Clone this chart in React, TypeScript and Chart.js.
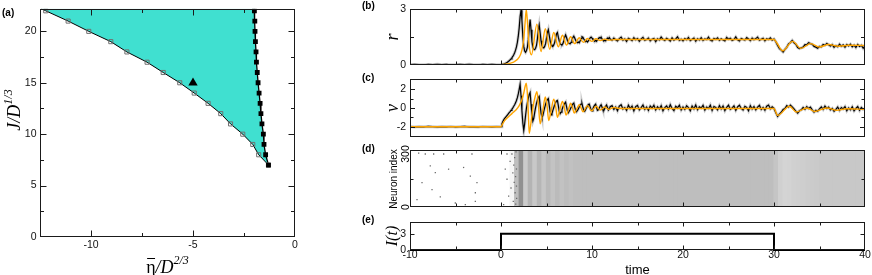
import React, { useEffect, useRef } from 'react';
import { Chart, registerables } from 'chart.js';

Chart.register(...registerables);

// ---------------- Panel (a): phase diagram ----------------
const phaseJ = [22, 21, 20, 19, 18, 17, 16, 15, 14, 13, 12, 11, 10, 9, 8, 7];
const leftEta = [-12.22, -11.12, -10.11, -9.03, -8.24, -7.25, -6.46, -5.65, -4.94, -4.26, -3.64, -3.16, -2.56, -2.07, -1.78, -1.3];
const rightEta = [-1.99, -1.97, -1.96, -1.94, -1.91, -1.89, -1.85, -1.81, -1.76, -1.71, -1.67, -1.62, -1.55, -1.52, -1.44, -1.3];
const boundaryTopJ = 22.2;
const leftTopEta = -12.44;
const rightTopEta = -2.0;
const markerEta = [-5];
const markerJ = [15];
const etaTickLabels = [-10, -5, 0];
const jTickLabels = [0, 5, 10, 15, 20];

// ---------------- Panels (b),(c): time series ----------------
// network (black): pre-stimulus t=-10..-0.5 step 0.5, early t=0..12 step 0.1, late t=12.2..40 step 0.2
const rNetPre = [0.02, 0.03, 0.02, 0.01, 0.03, 0.02, 0.04, 0.02, 0.03, 0.01, 0.02, 0.03, 0.02, 0.04, 0.02, 0.01, 0.03, 0.02, 0.03, 0.02];
const rNetEarly = [
  0.03, 0.03, 0.04, 0.05, 0.07, 0.09, 0.12, 0.15, 0.19, 0.23,
  0.28, 0.33, 0.39, 0.46, 0.55, 0.66, 0.8, 0.98, 1.22, 1.55,
  2.0, 2.6, 2.95, 2.4, 1.55, 1.0, 0.75, 0.68, 0.78, 0.95,
  1.35, 2.0, 2.45, 1.9, 1.25, 0.95, 0.85, 0.82, 0.9, 1.05,
  1.4, 1.85, 2.15, 1.75, 1.3, 1.05, 0.95, 0.92, 1.0, 1.15,
  1.45, 1.75, 1.9, 1.6, 1.3, 1.1, 1.03, 1.0, 1.08, 1.22,
  1.45, 1.68, 1.75, 1.5, 1.3, 1.15, 1.1, 1.08, 1.15, 1.3,
  1.5, 1.62, 1.48, 1.32, 1.2, 1.16, 1.14, 1.22, 1.35, 1.48,
  1.55, 1.45, 1.33, 1.25, 1.2, 1.24, 1.2, 1.3, 1.42, 1.52,
  1.5, 1.4, 1.32, 1.26, 1.3, 1.24, 1.3, 1.38, 1.46, 1.5,
  1.45, 1.38, 1.32, 1.27, 1.33, 1.28, 1.36, 1.42, 1.48, 1.44,
  1.5, 1.4, 1.34, 1.29, 1.35, 1.3, 1.38, 1.45, 1.41, 1.48,
  1.4,
];
const rNetLate = [
  1.33, 1.45, 1.36, 1.29, 1.42, 1.5, 1.34, 1.4, 1.27, 1.44,
  1.38, 1.31, 1.47, 1.36, 1.42, 1.28, 1.4, 1.49, 1.33, 1.37,
  1.45, 1.3, 1.39, 1.43, 1.26, 1.41, 1.35, 1.5, 1.38, 1.32,
  1.44, 1.37, 1.29, 1.46, 1.34, 1.4, 1.52, 1.33, 1.39, 1.3,
  1.42, 1.36, 1.48, 1.31, 1.38, 1.45, 1.28, 1.41, 1.35, 1.47,
  1.32, 1.4, 1.37, 1.5, 1.34, 1.29, 1.43, 1.38, 1.46, 1.33,
  1.41, 1.35, 1.3, 1.48, 1.39, 1.44, 1.32, 1.37, 1.51, 1.36,
  1.29, 1.43, 1.38, 1.34, 1.47, 1.4, 1.31, 1.45, 1.36, 1.42,
  1.5, 1.33, 1.39, 1.44, 1.3, 1.41, 1.37, 1.46, 1.34, 1.4,
  1.25, 1.05, 0.88, 0.8, 0.7, 0.84, 0.95, 1.14, 1.2, 1.32,
  1.2, 1.12, 0.94, 0.88, 0.92, 0.96, 1.1, 1.08, 1.2, 1.15,
  1.12, 1.0, 0.96, 0.9, 1.0, 0.98, 1.1, 1.06, 1.16, 1.09,
  1.02, 1.1, 0.95, 1.04, 0.98, 1.12, 1.01, 1.08, 0.96, 1.1,
  1.03, 1.12, 0.98, 1.07, 0.94, 1.1, 1.0, 1.06, 0.9, 1.04,
];
const vNetPre = [-1.98, -2.02, -1.99, -2.01, -1.97, -2.0, -2.03, -1.99, -2.01, -1.98, -2.02, -2.0, -1.97, -2.01, -2.0, -2.02, -1.98, -2.0, -2.01, -1.99];
const vNetEarly = [
  -2.0, -1.7, -1.45, -1.27, -1.12, -1.0, -0.88, -0.75, -0.62, -0.5,
  -0.38, -0.25, -0.12, 0.02, 0.18, 0.35, 0.55, 0.8, 1.1, 1.5,
  2.0, 2.55, 1.3, -0.3, -1.6, -2.4, -1.7, -0.8, 0.0, 0.55,
  1.0, 1.45, 1.65, 0.4, -0.7, -1.4, -1.1, -0.5, 0.05, 0.5,
  0.85, 1.15, 1.25, 0.3, -0.55, -1.0, -0.8, -0.35, 0.05, 0.4,
  0.7, 0.9, 1.0, 0.3, -0.4, -0.75, -0.6, -0.25, 0.05, 0.35,
  0.55, 0.75, 0.8, 0.25, -0.35, -0.6, -0.45, -0.2, 0.1, 0.3,
  0.5, 0.62, 0.15, -0.3, -0.5, -0.35, -0.15, 0.08, 0.28, 0.45,
  0.52, 0.1, -0.25, -0.4, -0.25, -0.1, 0.12, 0.3, 0.42, 0.48,
  0.05, -0.25, -0.35, -0.15, 0.05, 0.2, 0.38, 0.42, 0.1, -0.2,
  -0.3, -0.1, 0.15, 0.3, 0.4, 0.05, -0.25, -0.2, 0.0, 0.22,
  0.35, 0.1, -0.2, -0.28, -0.05, 0.18, 0.32, 0.05, -0.22, -0.1,
  0.15,
];
const vNetLate = [
  0.25, -0.15, 0.1, -0.3, 0.2, 0.35, -0.1, 0.05, -0.25, 0.3,
  -0.05, 0.2, -0.3, 0.15, 0.28, -0.2, 0.05, 0.32, -0.15, 0.1,
  -0.25, 0.2, 0.0, 0.3, -0.2, 0.12, -0.1, 0.25, -0.3, 0.05,
  0.22, -0.12, 0.35, -0.05, -0.28, 0.18, 0.02, 0.3, -0.2, 0.1,
  -0.15, 0.25, 0.05, -0.3, 0.2, -0.08, 0.32, -0.18, 0.12, 0.0,
  0.28, -0.22, 0.1, -0.05, 0.3, -0.25, 0.15, 0.05, -0.2, 0.25,
  -0.1, 0.2, -0.28, 0.08, 0.3, -0.15, 0.0, 0.22, -0.25, 0.12,
  0.3, -0.05, -0.22, 0.18, 0.05, -0.3, 0.25, -0.1, 0.15, -0.2,
  0.1, 0.28, -0.15, 0.05, -0.25, 0.2, 0.32, -0.08, 0.12, -0.05,
  -0.5, -0.9, -0.65, -0.45, -0.15, -0.05, 0.25, 0.1, 0.3, 0.12,
  -0.1, -0.35, -0.55, -0.3, -0.2, 0.05, -0.15, 0.15, -0.05, 0.1,
  -0.2, -0.45, -0.25, -0.35, -0.1, 0.12, -0.15, 0.2, -0.05, 0.1,
  -0.2, -0.05, -0.35, -0.15, 0.1, -0.25, 0.05, -0.1, 0.15, -0.3,
  0.0, -0.2, 0.12, -0.3, -0.05, 0.15, -0.25, 0.05, -0.15, -0.1,
];
// mean-field (orange): extrema
const rMfT = [-10, 0, 0.5, 1.0, 1.5, 2.0, 2.3, 2.5, 2.65, 2.78, 2.92, 3.08, 3.35, 3.95, 4.4, 4.87, 5.35, 5.8, 6.3, 6.75, 7.2, 7.65, 8.1, 8.6, 9.05, 9.5, 10.0, 10.45, 10.9, 11.4, 11.85, 12.5, 30.0, 30.3, 30.95, 32.05, 32.95, 34.05, 35.0, 36.0, 37.1, 38.2, 40];
const rMfV = [0.02, 0.02, 0.04, 0.09, 0.19, 0.42, 0.8, 1.4, 2.3, 2.98, 2.2, 1.1, 0.55, 2.2, 0.72, 1.95, 0.85, 1.75, 0.98, 1.6, 1.07, 1.52, 1.15, 1.47, 1.22, 1.43, 1.27, 1.41, 1.31, 1.39, 1.34, 1.37, 1.37, 1.2, 0.76, 1.27, 0.9, 1.15, 0.97, 1.1, 1.01, 1.06, 1.05];
const vMfT = [-10, 0, 0.15, 0.4, 0.8, 1.2, 1.6, 2.0, 2.3, 2.5, 2.65, 2.78, 2.9, 3.0, 3.1, 3.3, 3.5, 3.75, 3.95, 4.1, 4.3, 4.6, 4.87, 5.05, 5.25, 5.5, 5.8, 6.0, 6.2, 6.45, 6.75, 6.95, 7.15, 7.4, 7.65, 7.85, 8.05, 8.3, 8.6, 8.8, 9.0, 9.5, 9.95, 10.45, 10.9, 11.4, 11.85, 12.4, 13.0, 30.0, 30.4, 31.7, 32.45, 33.6, 34.5, 35.8, 36.9, 38.0, 40];
const vMfV = [-2.0, -2.0, -1.75, -1.35, -0.95, -0.6, -0.25, 0.25, 0.9, 1.6, 2.3, 2.64, 1.5, -0.5, -2.7, -1.5, 0.0, 1.2, 1.73, 0.5, -1.69, -0.2, 1.19, 0.3, -1.33, -0.3, 0.95, 0.2, -1.0, -0.25, 0.7, 0.1, -0.75, -0.2, 0.5, 0.05, -0.55, -0.15, 0.35, 0.0, -0.4, 0.25, -0.3, 0.18, -0.22, 0.1, -0.15, 0.05, -0.05, -0.05, -0.79, 0.18, -0.43, 0.0, -0.37, 0.0, -0.25, -0.08, -0.15];

// ---------------- Panel (d): raster ----------------
const neuronCount = 300;
const spikeT = [-9.23, -9.05, -8.68, -8.32, -7.77, -7.58, -7.4, -7.22, -6.67, -6.3, -5.76, -5.02, -4.11, -3.92, -3.37, -3.19, -2.82, -2.82, -2.64, 0.29, 0.47, 0.66, 0.66, 0.84, 1.0, 1.1, 1.2, 1.3, 1.35, 1.4, 1.45, 1.5, 1.55, 1.6, 1.62, 1.65, 1.7, 1.7, 1.72];
const spikeN = [39, 284, 128, 279, 217, 92, 279, 181, 53, 279, 199, 21, 208, 12, 163, 279, 75, 30, 128, 12, 199, 279, 146, 57, 240, 100, 279, 180, 30, 220, 130, 260, 75, 160, 15, 290, 110, 200, 45];
// spike density per 0.5-wide time bin, t = 0 .. 40
const rasterBinStart = 0;
const rasterBinWidth = 0.5;
const rasterDensity = [
  0, 0, 0.08, 0.5, 0.85, 0.4, 0.58, 0.42, 0.56, 0.44, 0.54, 0.46, 0.52, 0.47, 0.51, 0.48,
  0.5, 0.5, 0.5, 0.5, 0.5, 0.5, 0.5, 0.5, 0.5, 0.5, 0.5, 0.5, 0.5, 0.5, 0.5, 0.5, 0.5, 0.5, 0.5, 0.5,
  0.5, 0.5, 0.5, 0.5, 0.5, 0.5, 0.5, 0.5, 0.5, 0.5, 0.5, 0.5, 0.5, 0.5, 0.5, 0.5, 0.5, 0.5, 0.5, 0.5,
  0.5, 0.5, 0.5, 0.5,
  0.45, 0.36, 0.33, 0.34, 0.36, 0.37, 0.38, 0.39, 0.4, 0.41, 0.42, 0.42, 0.42, 0.42, 0.42, 0.42, 0.42, 0.42, 0.42, 0.42,
];

// ---------------- Panel (e): stimulus ----------------
const stimT = [-10, 0, 30, 40];
const stimI = [0, 3, 0, 0];

const timeTickLabels = [-10, 0, 10, 20, 30, 40];
const rTickLabels = [0, 3];
const vTickLabels = [-2, 0, 2];
const iTickLabels = [0, 3];

// ---------------- styling ----------------
const W = 872;
const H = 275;
const SANS = '"Liberation Sans", Arial, Helvetica, sans-serif';
const SERIF = '"Liberation Serif", "Times New Roman", serif';
const FRAME = '#1a1a1a';
const TURQ = '#40e0d0';
const ORANGE = '#ffa500';
const TICK_FONT = { family: SANS, size: 10.5, lineHeight: 1 };

function gridPoints(t0: number, dt: number, vals: number[]) {
  return vals.map((v, i) => ({ x: +(t0 + i * dt).toFixed(3), y: v }));
}
function pairPoints(xs: number[], ys: number[]) {
  return xs.map((x, i) => ({ x, y: ys[i] }));
}

function scaleCfg(min: number, max: number, opt: any) {
  const show = !!opt.labels;
  const cfg: any = {
    type: 'linear',
    min,
    max,
    display: show,
    offset: false,
    grid: { display: false, drawTicks: false, offset: false },
    border: { display: false },
    ticks: {
      display: show,
      font: TICK_FONT,
      color: '#111',
      padding: opt.pad ?? 3,
      autoSkip: false,
      maxRotation: 0,
      minRotation: 0,
      callback: (v: any) => String(v),
    },
  };
  if (show) {
    cfg.afterBuildTicks = (s: any) => {
      s.ticks = opt.labels.map((v: number) => ({ value: v }));
    };
    cfg.afterFit = (s: any) => {
      if (opt.horizontal) s.height = opt.size;
      else s.width = opt.size;
    };
  }
  return cfg;
}

function framePlugin(id: string, xt: any[], yt: any[]) {
  return {
    id,
    afterDatasetsDraw(chart: any) {
      const { ctx, chartArea: a } = chart;
      const xs = chart.scales.x;
      const ys = chart.scales.y;
      const L = Math.round(a.left) + 0.5;
      const R = Math.round(a.right) - 0.5;
      const T = Math.round(a.top) + 0.5;
      const B = Math.round(a.bottom) - 0.5;
      ctx.save();
      ctx.strokeStyle = FRAME;
      ctx.lineWidth = 1;
      ctx.beginPath();
      for (const t of xt) {
        const p = Math.round(xs.getPixelForValue(t.v)) + 0.5;
        ctx.moveTo(p, B);
        ctx.lineTo(p, B - t.len);
        ctx.moveTo(p, T);
        ctx.lineTo(p, T + t.len);
      }
      for (const t of yt) {
        const p = Math.round(ys.getPixelForValue(t.v)) + 0.5;
        ctx.moveTo(L, p);
        ctx.lineTo(L + t.len, p);
        ctx.moveTo(R, p);
        ctx.lineTo(R - t.len, p);
      }
      ctx.stroke();
      ctx.strokeRect(L, T, R - L, B - T);
      ctx.restore();
    },
  };
}

function textPlugin(id: string, items: any[]) {
  return {
    id,
    afterDraw(chart: any) {
      const ctx = chart.ctx;
      for (const it of items) {
        ctx.save();
        ctx.translate(it.x, it.y);
        if (it.rot) ctx.rotate(it.rot);
        ctx.fillStyle = it.color || '#000';
        ctx.textBaseline = 'alphabetic';
        ctx.textAlign = 'left';
        let total = 0;
        const ws = it.runs.map((r: any) => {
          ctx.font = r.font;
          const w = ctx.measureText(r.t).width;
          total += w;
          return w;
        });
        let x = it.align === 'center' ? -total / 2 : it.align === 'right' ? -total : 0;
        it.runs.forEach((r: any, i: number) => {
          ctx.font = r.font;
          ctx.fillText(r.t, x, -(r.dy || 0));
          if (r.over) ctx.fillRect(x + 1, -r.over, ws[i] - 1.5, 1);
          x += ws[i];
        });
        ctx.restore();
      }
    },
  };
}

const timeXTicks = [
  { v: -5, len: 3 }, { v: 0, len: 4 }, { v: 5, len: 3 }, { v: 10, len: 4 }, { v: 15, len: 3 },
  { v: 20, len: 4 }, { v: 25, len: 3 }, { v: 30, len: 4 }, { v: 35, len: 3 },
];

function baseOptions(padding: any, scales: any) {
  return {
    responsive: false,
    animation: false,
    devicePixelRatio: 1,
    events: [],
    layout: { padding },
    plugins: { legend: { display: false }, tooltip: { enabled: false } },
    scales,
  };
}

function buildConfigs() {
  const ROT = -Math.PI / 2;
  // ---- (a)
  const leftPts = pairPoints(leftEta, phaseJ);
  const rightPts = pairPoints(rightEta, phaseJ);
  const leftLine = [{ x: leftTopEta, y: boundaryTopJ }, ...leftPts];
  const rightLine = [{ x: rightTopEta, y: boundaryTopJ }, ...rightPts];
  const region = [...leftLine, ...rightPts.slice().reverse(), { x: rightTopEta, y: boundaryTopJ }];
  const cfgA = {
    type: 'line',
    data: {
      datasets: [
        { label: 'region', data: region, fill: 'shape', backgroundColor: TURQ, borderWidth: 0, pointRadius: 0, order: 6 },
        { label: 'left', data: leftLine, borderColor: '#000', borderWidth: 1, pointRadius: 0, fill: false, order: 5 },
        { label: 'right', data: rightLine, borderColor: '#000', borderWidth: 1.3, pointRadius: 0, fill: false, order: 4 },
        {
          type: 'scatter', label: 'open', data: leftPts, pointStyle: 'rect', pointRadius: 2.9,
          borderColor: '#707070', backgroundColor: 'rgba(0,0,0,0)', pointBorderColor: '#707070',
          pointBackgroundColor: 'rgba(0,0,0,0)', pointBorderWidth: 1, order: 3,
        },
        {
          type: 'scatter', label: 'filled', data: rightPts, pointStyle: 'rect', pointRadius: 3.4,
          borderColor: '#000', backgroundColor: '#000', pointBorderColor: '#000', pointBackgroundColor: '#000',
          pointBorderWidth: 0, order: 2,
        },
        {
          type: 'scatter', label: 'marker', data: pairPoints(markerEta, markerJ), pointStyle: 'triangle', pointRadius: 5.4,
          borderColor: '#000', backgroundColor: '#000', pointBorderColor: '#000', pointBackgroundColor: '#000',
          pointBorderWidth: 0, order: 1,
        },
      ],
    },
    options: baseOptions(
      { left: 0, right: W - 295, top: 7, bottom: H - 237 - 20 },
      {
        x: scaleCfg(-12.5, 0, { labels: etaTickLabels, pad: 2.5, size: 20, horizontal: true }),
        y: scaleCfg(0, 22.2, { labels: jTickLabels, pad: 3.5, size: 40, horizontal: false }),
      }
    ),
    plugins: [
      framePlugin('frameA',
        [{ v: -10, len: 6 }, { v: -7.5, len: 3.5 }, { v: -5, len: 6 }, { v: -2.5, len: 3.5 }],
        [{ v: 2.5, len: 3.5 }, { v: 5, len: 6 }, { v: 7.5, len: 3.5 }, { v: 10, len: 6 }, { v: 12.5, len: 3.5 }, { v: 15, len: 6 }, { v: 17.5, len: 3.5 }, { v: 20, len: 6 }]),
      textPlugin('textA', [
        { x: 2, y: 15.5, runs: [{ t: '(a)', font: `bold 10px ${SANS}` }] },
        { x: 20, y: 110, rot: ROT, align: 'center', runs: [{ t: 'J/D', font: `italic 18px ${SERIF}` }, { t: '1/3', font: `italic 12px ${SERIF}`, dy: 8 }] },
        { x: 167.5, y: 273, align: 'center', runs: [{ t: 'η', font: `18px ${SERIF}`, over: 15 }, { t: '/D', font: `italic 18px ${SERIF}` }, { t: '2/3', font: `italic 12px ${SERIF}`, dy: 9 }] },
      ]),
    ],
  };

  // ---- (b)
  const rNet = [...gridPoints(-10, 0.5, rNetPre), ...gridPoints(0, 0.1, rNetEarly), ...gridPoints(12.2, 0.2, rNetLate)];
  const vNet = [...gridPoints(-10, 0.5, vNetPre), ...gridPoints(0, 0.1, vNetEarly), ...gridPoints(12.2, 0.2, vNetLate)];
  const seriesSets = (net: any[], mf: any[]) => [
    { label: 'mean field', data: mf, borderColor: ORANGE, borderWidth: 1.4, pointRadius: 0, cubicInterpolationMode: 'monotone', fill: false, order: 0 },
    { label: 'network', data: net, borderColor: '#000', borderWidth: 1.2, pointRadius: 0, fill: false, order: 1 },
    { label: 'network halo', data: net, borderColor: 'rgba(0,0,0,0.2)', borderWidth: 3, pointRadius: 0, fill: false, order: 2 },
  ];
  const cfgB = {
    type: 'line',
    data: { datasets: seriesSets(rNet, pairPoints(rMfT, rMfV)) },
    options: baseOptions(
      { left: 410 - 30, right: W - 865, top: 9, bottom: H - 65 },
      {
        x: scaleCfg(-10, 40, { horizontal: true }),
        y: scaleCfg(0, 3, { labels: rTickLabels, pad: 4, size: 30, horizontal: false }),
      }
    ),
    plugins: [
      framePlugin('frameB', timeXTicks, [{ v: 1.5, len: 3.5 }]),
      textPlugin('textB', [
        { x: 362, y: 8.5, runs: [{ t: '(b)', font: `bold 10px ${SANS}` }] },
        { x: 397.5, y: 37, rot: ROT, align: 'center', runs: [{ t: 'r', font: `italic 18px ${SERIF}` }] },
      ]),
    ],
  };

  // ---- (c)
  const cfgC = {
    type: 'line',
    data: { datasets: seriesSets(vNet, pairPoints(vMfT, vMfV)) },
    options: baseOptions(
      { left: 410 - 30, right: W - 865, top: 79, bottom: H - 137 },
      {
        x: scaleCfg(-10, 40, { horizontal: true }),
        y: scaleCfg(-3.1, 3.1, { labels: vTickLabels, pad: 4, size: 30, horizontal: false }),
      }
    ),
    plugins: [
      framePlugin('frameC', timeXTicks, [{ v: -2, len: 4.5 }, { v: -1, len: 3 }, { v: 0, len: 4.5 }, { v: 1, len: 3 }, { v: 2, len: 4.5 }]),
      textPlugin('textC', [
        { x: 362, y: 80.5, runs: [{ t: '(c)', font: `bold 10px ${SANS}` }] },
        { x: 397.5, y: 108, rot: ROT, align: 'center', runs: [{ t: 'v', font: `italic 18px ${SERIF}` }] },
      ]),
    ],
  };

  // ---- (d)
  const bins = rasterDensity.map((d, i) => ({ x: rasterBinStart + rasterBinWidth * (i + 0.5), y: neuronCount }));
  const binColors = rasterDensity.map((d) => {
    if (d <= 0) return 'rgba(0,0,0,0)';
    const g = Math.round(255 - 130 * d);
    return `rgb(${g},${g},${g})`;
  });
  const cfgD = {
    type: 'bar',
    data: {
      datasets: [
        {
          type: 'scatter', label: 'spikes', data: pairPoints(spikeT, spikeN), pointStyle: 'rect', pointRadius: 0.9,
          backgroundColor: '#6a6a6a', borderColor: '#6a6a6a', pointBackgroundColor: '#6a6a6a', pointBorderWidth: 0, order: 0,
        },
        {
          label: 'spike density', data: bins, backgroundColor: binColors, borderWidth: 0,
          barPercentage: 1, categoryPercentage: 1, inflateAmount: 0.6, order: 1,
        },
      ],
    },
    options: baseOptions(
      { left: 410, right: W - 865, top: 150, bottom: H - 207 },
      {
        x: scaleCfg(-10, 40, { horizontal: true }),
        y: scaleCfg(0, neuronCount, { horizontal: false }),
      }
    ),
    plugins: [
      framePlugin('frameD', timeXTicks, [{ v: 150, len: 3 }]),
      textPlugin('textD', [
        { x: 362, y: 151.5, runs: [{ t: '(d)', font: `bold 10px ${SANS}` }] },
        { x: 397, y: 179, rot: ROT, align: 'center', runs: [{ t: 'Neuron index', font: `10px ${SANS}` }] },
        { x: 408.5, y: 154, rot: ROT, align: 'center', runs: [{ t: '300', font: `10.5px ${SANS}` }] },
        { x: 408.5, y: 207, rot: ROT, align: 'center', runs: [{ t: '0', font: `10.5px ${SANS}` }] },
      ]),
    ],
  };

  // ---- (e)
  const cfgE = {
    type: 'line',
    data: {
      datasets: [
        { label: 'I(t)', data: pairPoints(stimT, stimI), stepped: 'before', borderColor: '#000', borderWidth: 2, pointRadius: 0, fill: false, clip: 3 },
      ],
    },
    options: baseOptions(
      { left: 410 - 30, right: W - 865, top: 222, bottom: H - 250 - 20 },
      {
        x: scaleCfg(-10, 40, { labels: timeTickLabels, pad: 0, size: 20, horizontal: true }),
        y: scaleCfg(0, 5.2, { labels: iTickLabels, pad: 4, size: 30, horizontal: false }),
      }
    ),
    plugins: [
      framePlugin('frameE', timeXTicks, [{ v: 3, len: 4 }]),
      textPlugin('textE', [
        { x: 362, y: 222.5, runs: [{ t: '(e)', font: `bold 10px ${SANS}` }] },
        { x: 396.5, y: 236, rot: ROT, align: 'center', runs: [{ t: 'I(t)', font: `italic 16px ${SERIF}` }] },
        { x: 637.5, y: 274, align: 'center', runs: [{ t: 'time', font: `13px ${SANS}` }] },
      ]),
    ],
  };

  return [cfgD, cfgE, cfgC, cfgB, cfgA];
}

export default function App() {
  const refs = useRef<(HTMLCanvasElement | null)[]>([]);
  useEffect(() => {
    const cfgs = buildConfigs();
    const charts = cfgs.map((c: any, i: number) => new Chart(refs.current[i] as HTMLCanvasElement, c));
    return () => charts.forEach((c) => c.destroy());
  }, []);
  return (
    <div style={{ position: 'absolute', left: 0, top: 0, width: W, height: H, background: '#fff', overflow: 'hidden' }}>
      {[0, 1, 2, 3, 4].map((i) => (
        <canvas
          key={i}
          ref={(el) => {
            refs.current[i] = el;
          }}
          width={W}
          height={H}
          style={{ position: 'absolute', left: 0, top: 0, width: W, height: H }}
        />
      ))}
    </div>
  );
}
